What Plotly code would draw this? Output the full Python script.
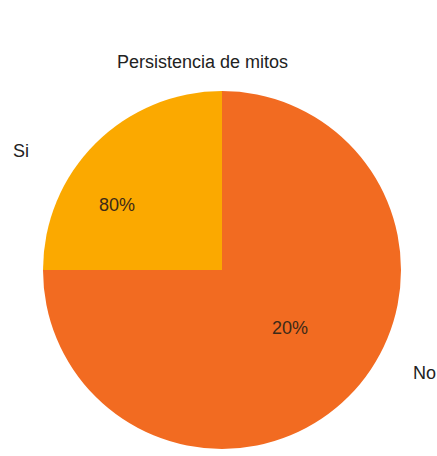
import plotly.graph_objects as go

labels = ["Si", "No"]
values = [25, 75]
pct_text = ["80%", "20%"]
colors = ["#FBA900", "#F26B21"]
title = "Persistencia de mitos"

fig = go.Figure(go.Pie(
    labels=labels,
    values=values,
    sort=False,
    direction="clockwise",
    rotation=270,
    marker=dict(colors=colors, line=dict(width=0)),
    textinfo="none",
    hoverinfo="label+percent",
    domain=dict(x=[43/437, 401/437], y=[1-449/456, 1-91/456]),
    showlegend=False,
))

W, H = 437, 456
def px(x, y):
    return x / W, 1 - y / H

FONT = "Liberation Sans, Arial"

def ann(t, x, y, color):
    ax, ay = px(x, y)
    fig.add_annotation(x=ax, y=ay, xref="paper", yref="paper", text=t, showarrow=False,
                       xanchor="center", yanchor="middle",
                       font=dict(family=FONT, size=18, color=color))

ann_pos_pct = [(117, 205), (290, 328)]
ann_pos_lab = [(21, 151), (424, 373)]
for t, (x, y) in zip(pct_text, ann_pos_pct):
    ann(t, x, y, "#3d2a18")
for t, (x, y) in zip(labels, ann_pos_lab):
    ann(t, x, y, "#222222")
ann(title, 202, 62, "#222222")

fig.update_layout(width=W, height=H, margin=dict(l=0, r=0, t=0, b=0),
                  paper_bgcolor="white", plot_bgcolor="white")
fig.write_html("out.html", config={"displayModeBar": False},
               post_script="document.body.style.margin='0';")
